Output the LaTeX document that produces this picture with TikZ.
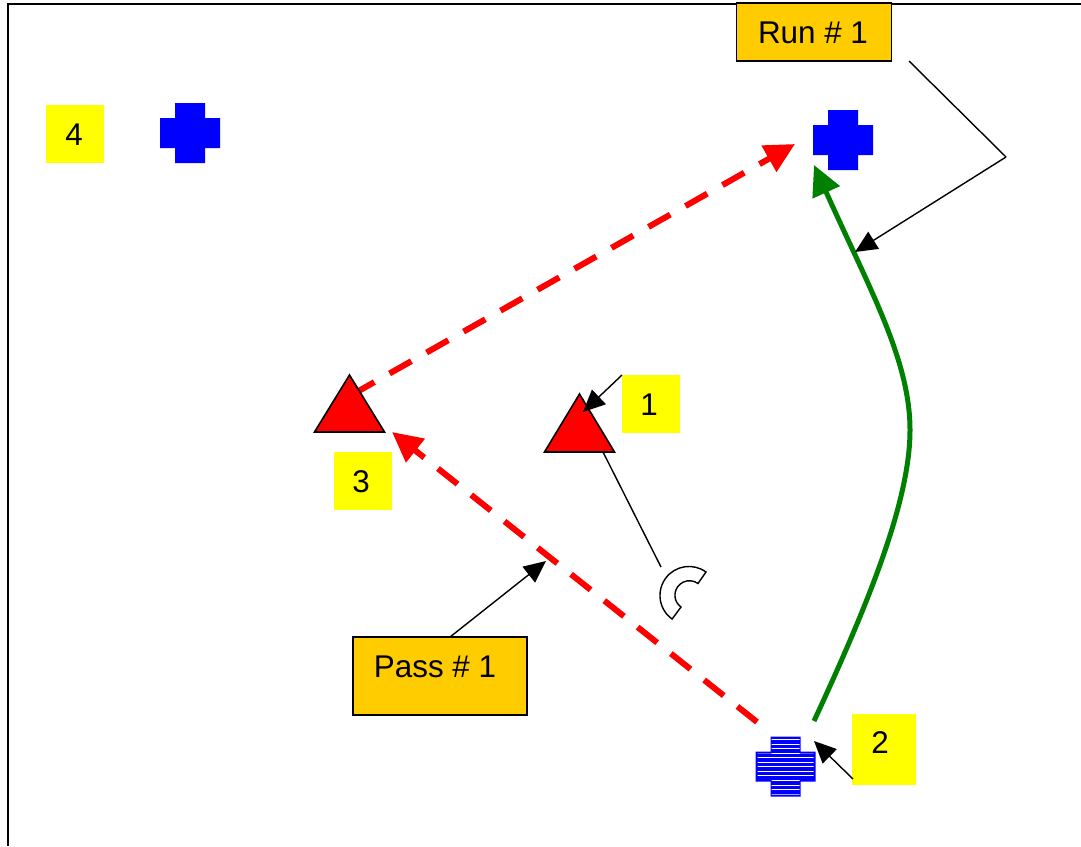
\documentclass[tikz,border=0pt]{standalone}
\usepackage{fontspec}
\setmainfont{Liberation Sans}
\usepackage{tikz}
\usetikzlibrary{arrows.meta}

\definecolor{labelorange}{RGB}{255,204,0}
\definecolor{labelyellow}{RGB}{255,255,0}
\definecolor{rungreen}{RGB}{0,128,0}
\definecolor{markblue}{RGB}{0,0,255}
\definecolor{markred}{RGB}{255,0,0}

\begin{document}
\begin{tikzpicture}[x=1pt,y=-1pt,
	every node/.style={black,font=\fontsize{31.4}{36}\selectfont,inner sep=0pt,text height=23pt},
	numbox/.style={fill=labelyellow,minimum width=58pt,minimum height=58pt},
	tagbox/.style={fill=labelorange,draw=black,line width=1.6pt},
	pointer/.style={black,line width=1.4pt,-{Triangle[length=22pt,width=20pt]}},
	passline/.style={markred,line width=6pt,dash pattern=on 25pt off 17.5pt,-{Triangle[length=30pt,width=29pt]}},
	runline/.style={rungreen,line width=5pt,-{Triangle[length=30pt,width=29pt]}},
	playertri/.style={fill=markred,draw=black,line width=1.6pt,line join=miter},
	plusmark/.pic={\fill[markblue] (-15,-30) -- (15,-30) -- (15,-15) -- (30,-15) -- (30,15) -- (15,15) -- (15,30) -- (-15,30) -- (-15,15) -- (-30,15) -- (-30,-15) -- (-15,-15) -- cycle;}]
	\useasboundingbox (0,0) rectangle (1081,846);

	\coordinate (Frame1) at (8,846);
	\coordinate (Frame2) at (8,4);
	\coordinate (Frame3) at (1081,4);

	\coordinate (T1a) at (544.5,452);
	\coordinate (T1b) at (614.5,452);
	\coordinate (T1c) at (579.5,394);
	\coordinate (T3a) at (314.5,432);
	\coordinate (T3b) at (384.5,432);
	\coordinate (T3c) at (349.5,375);

	\coordinate (PassA) at (757,722);
	\coordinate (PassB) at (392,432);
	\coordinate (PassC) at (352.6,394.4);
	\coordinate (PassD) at (795,144);
	\coordinate (RunA) at (814,721);
	\coordinate (RunB) at (910,430);
	\coordinate (RunC) at (814,165);

	\coordinate (RunTagA) at (909,61);
	\coordinate (RunTagB) at (1006,157);
	\coordinate (RunTagC) at (855,252);
	\coordinate (PassTagA) at (450,637);
	\coordinate (PassTagB) at (546,561);
	\coordinate (One) at (622,375);
	\coordinate (OneTip) at (583,412);
	\coordinate (Two) at (853,779);
	\coordinate (TwoTip) at (814,741);
	\coordinate (TailA) at (603,452);
	\coordinate (TailB) at (661,567);

	\draw[line width=1.6pt] (Frame1) -- (Frame2) -- (Frame3);

	\pic at (190,133) {plusmark};
	\pic at (843,140) {plusmark};
	\pic at (785.5,766.5) {plusmark};
	\begin{scope}
		\clip (771.5,738.5) rectangle (799.5,794.5) (757.5,753.5) rectangle (813.5,779.5);
		\foreach \i in {0,...,12}
			\draw[white,line width=1pt] (750,739.5+4.55*\i) -- (820,739.5+4.55*\i);
	\end{scope}

	\draw[passline] (PassA) -- (PassB);
	\draw[passline] (PassC) -- (PassD);
	\draw[runline] (RunA) .. controls (870,600) and (910,500) .. (RunB) .. controls (910,360) and (870,290) .. (RunC);

	\filldraw[playertri] (T1a) -- (T1b) -- (T1c) -- cycle;
	\filldraw[playertri] (T3a) -- (T3b) -- (T3c) -- cycle;

	\node[numbox] (num1) at (651,404) {1\kern4pt};
	\node[numbox,minimum width=64pt,minimum height=71pt,text depth=15pt] (num2) at (884,749.5) {2\kern8pt};
	\node[numbox] (num3) at (363,481) {3\kern4pt};
	\node[numbox] (num4) at (75,134) {4\kern2pt};
	\node[tagbox,minimum width=155pt,minimum height=58pt] (runtag) at (814,32) {Run \# 1\kern2pt};
	\node[tagbox,minimum width=174pt,minimum height=78pt,text depth=20pt] (passtag) at (440,676) {Pass \# 1\kern10pt};

	\draw[pointer] (One) -- (OneTip);
	\draw[pointer] (Two) -- (TwoTip);
	\draw[pointer] (PassTagA) -- (PassTagB);
	\draw[line width=1.4pt] (RunTagA) -- (RunTagB);
	\draw[pointer] (RunTagB) -- (RunTagC);
	\draw[line width=1.4pt] (TailA) -- (TailB);

	\draw[line width=1.4pt,fill=white] (706,572) arc[start angle=-54,end angle=-234.4,radius=29] -- (681,607) arc[start angle=-234.4,end angle=-54,radius=14.5] -- cycle;
\end{tikzpicture}
\end{document}
